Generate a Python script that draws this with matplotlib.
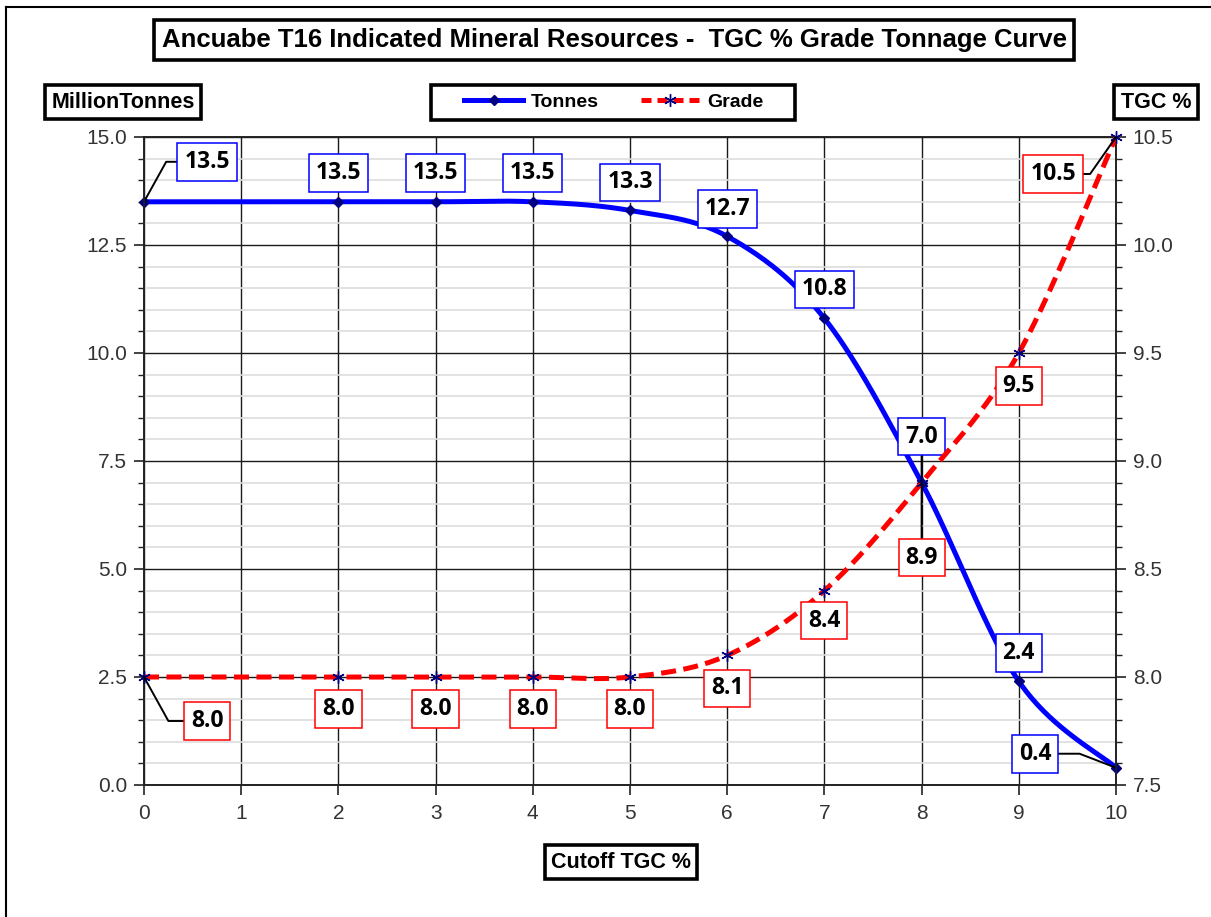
import numpy as np
import matplotlib.pyplot as plt
from matplotlib.lines import Line2D
from matplotlib.patches import Rectangle
from matplotlib.ticker import MultipleLocator


# data
cutoff = [0, 2, 3, 4, 5, 6, 7, 8, 9, 10]
tonnes = [13.5, 13.5, 13.5, 13.5, 13.3, 12.7, 10.8, 7.0, 2.4, 0.4]
grade = [8.0, 8.0, 8.0, 8.0, 8.0, 8.1, 8.4, 8.9, 9.5, 10.5]

# label offsets in pixels (dx, dy) from each point
tonnes_off = [(63, 40), (0, 29), (0, 29), (0, 29), (0, 28), (0, 27), (0, 29), (0, 46), (0, 28), (-81, 14)]
grade_off = [(63, -44), (0, -32), (0, -32), (0, -32), (0, -32), (0, -33), (0, -30), (0, -75), (0, -33), (-63, -37)]
# leader line angles (None = no leader)
tonnes_lead = [61, None, None, None, None, None, None, 90, None, 159]
grade_lead = [-61, None, None, None, None, None, None, -90, None, -125]

BLUE = '#0000FF'
RED = '#FF0000'
NAVY = '#000080'


def smooth(xs, ys, n=40):
	# excel style bezier smoothing through the points
	p = np.column_stack([xs, ys]).astype(float)
	pad = np.vstack([p[0], p, p[-1]])
	out = []
	t = np.linspace(0, 1, n)[:, None]
	for i in range(len(p) - 1):
		p0, p1 = pad[i + 1], pad[i + 2]
		c1 = p0 + (pad[i + 2] - pad[i]) / 6
		c2 = p1 - (pad[i + 3] - pad[i + 1]) / 6
		seg = (1 - t)**3 * p0 + 3 * (1 - t)**2 * t * c1 + 3 * (1 - t) * t**2 * c2 + t**3 * p1
		out.append(seg if i == 0 else seg[1:])
	out = np.vstack(out)
	return out[:, 0], out[:, 1]


fig = plt.figure(figsize = (12.11, 9.17), dpi = 100)
ax = fig.add_axes([144 / 1211, 1 - 785 / 917, (1116 - 144) / 1211, (785 - 137) / 917])
ax2 = ax.twinx()

ax.set_xlim(0, 10)
ax.set_ylim(0, 15)
ax2.set_ylim(7.5, 10.5)

ax.xaxis.set_major_locator(MultipleLocator(1))
ax.yaxis.set_major_locator(MultipleLocator(2.5))
ax.yaxis.set_minor_locator(MultipleLocator(0.5))
ax2.yaxis.set_major_locator(MultipleLocator(0.5))
ax2.yaxis.set_minor_locator(MultipleLocator(0.1))
ax.yaxis.set_major_formatter('{x:.1f}')
ax2.yaxis.set_major_formatter('{x:.1f}')

ax.grid(which = 'minor', axis = 'y', color = '#DDDDDD', lw = 1.2)
ax.grid(which = 'major', axis = 'y', color = '#1a1a1a', lw = 1.0)
ax.grid(which = 'major', axis = 'x', color = '#1a1a1a', lw = 1.0)
ax.set_axisbelow(True)

for a in (ax, ax2):
	a.tick_params(which = 'major', direction = 'out', length = 7, width = 1.2, color = '#222222',
		labelsize = 15, labelcolor = '#333333', pad = 5)
	a.tick_params(which = 'minor', direction = 'out', length = 4, width = 1.0, color = '#222222')
	for s in a.spines.values():
		s.set_color('#222222')
		s.set_linewidth(1.2)
	for lab in a.get_xticklabels() + a.get_yticklabels():
		lab.set_fontfamily('Liberation Sans')
ax.tick_params(axis = 'x', which = 'major', length = 7, pad = 7)

# tonnes (left axis)
sx, sy = smooth(cutoff, tonnes)
ax.plot(sx, sy, color = BLUE, lw = 3.6, zorder = 3, solid_capstyle = 'round')
ax.plot(cutoff, tonnes, ls = 'none', marker = 'D', ms = 5.5, color = NAVY, zorder = 4, clip_on = False)

# grade (right axis)
gx, gy = smooth(cutoff, grade)
ax2.plot(gx, gy, color = RED, lw = 3.6, dashes = (3, 1.5), zorder = 3)
ax2.plot(cutoff, grade, ls = 'none', marker = (6, 2, 0), ms = 9, mew = 1.0, color = NAVY, zorder = 4, clip_on = False)


def put_labels(a, ys, offs, leads, edge):
	for x, y, (dx, dy), ang in zip(cutoff, ys, offs, leads):
		kw = {}
		if ang is not None:
			kw['arrowprops'] = dict(arrowstyle = '-', color = 'black', lw = 1.4,
				connectionstyle = 'angle,angleA=0,angleB=%d,rad=0' % ang, shrinkA = 0, shrinkB = 0)
			if abs(ang) == 90:
				kw['arrowprops']['connectionstyle'] = 'arc3,rad=0'
		a.annotate('%.1f' % y, (x, y), xytext = (dx, dy), textcoords = 'offset pixels',
			ha = 'center', va = 'center', fontsize = 16.5, fontweight = 'bold', family = 'Open Sans',
			bbox = dict(boxstyle = 'square,pad=0.3', fc = 'white', ec = edge, lw = 1.1),
			zorder = 6, annotation_clip = False, **kw)


put_labels(ax, tonnes, tonnes_off, tonnes_lead, BLUE)
put_labels(ax2, grade, grade_off, grade_lead, RED)

# boxed titles
box_thick = dict(boxstyle = 'square,pad=0.3', fc = 'white', ec = 'black', lw = 2.6)
fig.text(614 / 1211, 1 - 40 / 917, 'Ancuabe T16 Indicated Mineral Resources -  TGC % Grade Tonnage Curve',
	ha = 'center', va = 'center', fontsize = 18.5, fontweight = 'bold', family = 'Liberation Sans',
	bbox = dict(box_thick, pad = 0.25))
fig.text(123 / 1211, 1 - 102 / 917, 'MillionTonnes', ha = 'center', va = 'center', fontsize = 15.5,
	fontweight = 'bold', family = 'Liberation Sans', bbox = box_thick)
fig.text(1156 / 1211, 1 - 102 / 917, 'TGC %', ha = 'center', va = 'center', fontsize = 15.5,
	fontweight = 'bold', family = 'Liberation Sans', bbox = box_thick)
fig.text(621 / 1211, 1 - 862 / 917, 'Cutoff TGC %', ha = 'center', va = 'center', fontsize = 15.5,
	fontweight = 'bold', family = 'Liberation Sans', bbox = box_thick)

# legend with a hand drawn frame
handles = [
	Line2D([], [], color = BLUE, lw = 3.6, marker = 'D', ms = 5.5, mfc = NAVY, mec = NAVY),
	Line2D([], [], color = RED, lw = 3.6, dashes = (2, 1.2), marker = (6, 2, 0), ms = 9, mec = NAVY, mew = 1.0),
]
fig.legend(handles, ['Tonnes', 'Grade'], loc = 'center', bbox_to_anchor = (614 / 1211, 1 - 102 / 917),
	ncol = 2, frameon = False, handlelength = 3.0, columnspacing = 2.2, borderpad = 0,
	prop = dict(family = 'Liberation Sans', weight = 'bold', size = 14), borderaxespad = 0,
	handletextpad = 0.4)
fig.add_artist(Rectangle((431 / 1211, 1 - 120 / 917), 364 / 1211, 35 / 917, transform = fig.transFigure,
	fill = False, ec = 'black', lw = 2.6, zorder = 0))

# outer border
fig.add_artist(Line2D([6 / 1211, 6 / 1211], [0, 1 - 7 / 917], color = 'black', lw = 1.5))
fig.add_artist(Line2D([6 / 1211, 1], [1 - 7 / 917, 1 - 7 / 917], color = 'black', lw = 1.5))

fig.savefig('out.png', dpi = 100)
